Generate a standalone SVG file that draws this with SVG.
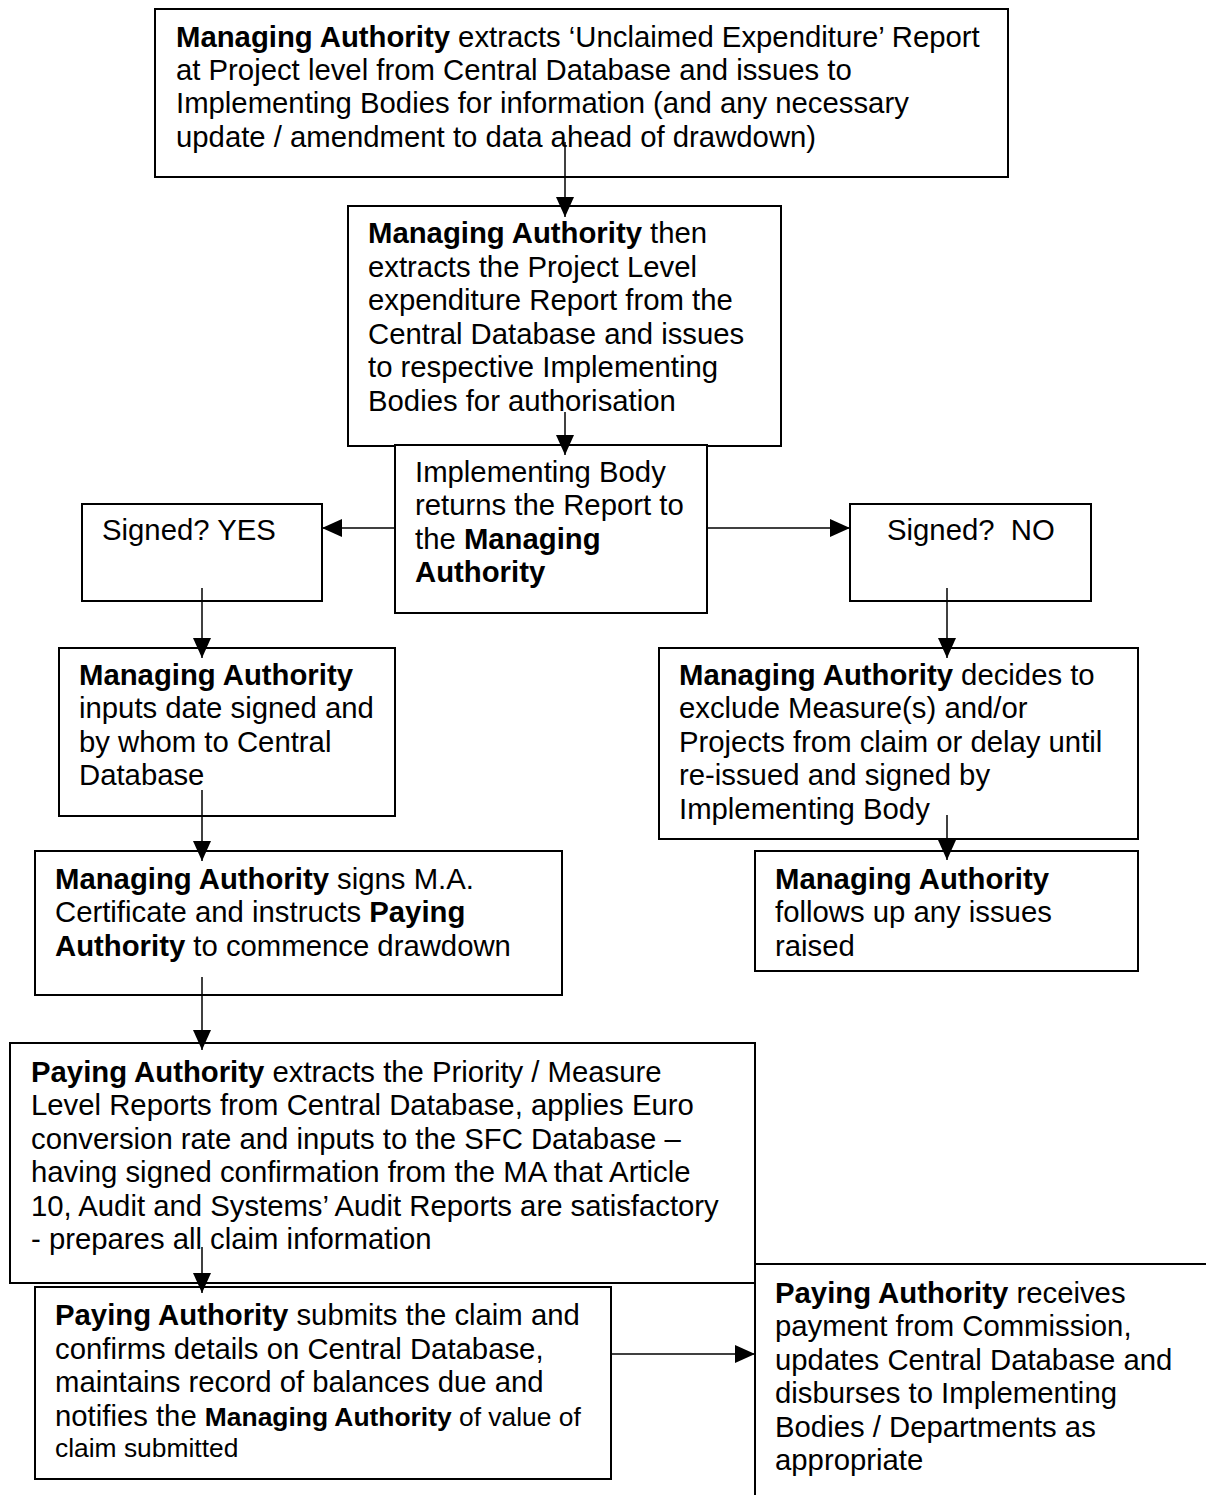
<svg xmlns="http://www.w3.org/2000/svg" width="1206" height="1495" viewBox="0 0 1206 1495">
<style>
  .box { fill: #ffffff; stroke: #000000; stroke-width: 2; }
  .t { font-family: "Liberation Sans", Arial, sans-serif; font-size: 29.3px; fill: #000000; }
  .s { font-size: 26.4px; }
  .b { font-weight: bold; }
  .conn { stroke: #000000; stroke-width: 1.5; fill: none; marker-end: url(#arrow); }
</style>
<defs>
  <marker id="arrow" viewBox="0 0 20 18" refX="20" refY="9" markerWidth="20" markerHeight="18" markerUnits="userSpaceOnUse" orient="auto">
    <path d="M0,0 L20,9 L0,18 Z" fill="#000000"/>
  </marker>
</defs>
<rect x="0" y="0" width="1206" height="1495" fill="#ffffff"/>

<g id="node-extract-unclaimed">
  <rect class="box" x="155" y="9" width="853" height="168"/>
  <text class="t" x="176" y="47"><tspan class="b">Managing Authority</tspan> extracts ‘Unclaimed Expenditure’ Report</text>
  <text class="t" x="176" y="80">at Project level from Central Database and issues to</text>
  <text class="t" x="176" y="113">Implementing Bodies for information (and any necessary</text>
  <text class="t" x="176" y="147">update / amendment to data ahead of drawdown)</text>
</g>

<g id="node-extract-project">
  <rect class="box" x="348" y="206" width="433" height="240"/>
  <text class="t" x="368" y="243"><tspan class="b">Managing Authority</tspan> then</text>
  <text class="t" x="368" y="277">extracts the Project Level</text>
  <text class="t" x="368" y="310">expenditure Report from the</text>
  <text class="t" x="368" y="344">Central Database and issues</text>
  <text class="t" x="368" y="377">to respective Implementing</text>
  <text class="t" x="368" y="411">Bodies for authorisation</text>
</g>

<g id="node-ib-returns">
  <rect class="box" x="395" y="445" width="312" height="168"/>
  <text class="t" x="415" y="482">Implementing Body</text>
  <text class="t" x="415" y="515">returns the Report to</text>
  <text class="t" x="415" y="549">the <tspan class="b">Managing</tspan></text>
  <text class="t b" x="415" y="582">Authority</text>
</g>

<g id="node-signed-yes">
  <rect class="box" x="82" y="504" width="240" height="97"/>
  <text class="t" x="102" y="540">Signed? YES</text>
</g>

<g id="node-signed-no">
  <rect class="box" x="850" y="504" width="241" height="97"/>
  <text class="t" x="887" y="540" xml:space="preserve">Signed?  NO</text>
</g>

<g id="node-ma-inputs">
  <rect class="box" x="59" y="648" width="336" height="168"/>
  <text class="t b" x="79" y="685">Managing Authority</text>
  <text class="t" x="79" y="718">inputs date signed and</text>
  <text class="t" x="79" y="752">by whom to Central</text>
  <text class="t" x="79" y="785">Database</text>
</g>

<g id="node-ma-decides">
  <rect class="box" x="659" y="648" width="479" height="191"/>
  <text class="t" x="679" y="685"><tspan class="b">Managing Authority</tspan> decides to</text>
  <text class="t" x="679" y="718">exclude Measure(s) and/or</text>
  <text class="t" x="679" y="752">Projects from claim or delay until</text>
  <text class="t" x="679" y="785">re-issued and signed by</text>
  <text class="t" x="679" y="819">Implementing Body</text>
</g>

<g id="node-ma-follows">
  <rect class="box" x="755" y="851" width="383" height="120"/>
  <text class="t b" x="775" y="889">Managing Authority</text>
  <text class="t" x="775" y="922">follows up any issues</text>
  <text class="t" x="775" y="956">raised</text>
</g>

<g id="node-ma-signs">
  <rect class="box" x="35" y="851" width="527" height="144"/>
  <text class="t" x="55" y="889"><tspan class="b">Managing Authority</tspan> signs M.A.</text>
  <text class="t" x="55" y="922">Certificate and instructs <tspan class="b">Paying</tspan></text>
  <text class="t" x="55" y="956"><tspan class="b">Authority</tspan> to commence drawdown</text>
</g>

<g id="node-pa-extracts">
  <rect class="box" x="10" y="1043" width="745" height="240"/>
  <text class="t" x="31" y="1082"><tspan class="b">Paying Authority</tspan> extracts the Priority / Measure</text>
  <text class="t" x="31" y="1115">Level Reports from Central Database, applies Euro</text>
  <text class="t" x="31" y="1149">conversion rate and inputs to the SFC Database –</text>
  <text class="t" x="31" y="1182">having signed confirmation from the MA that Article</text>
  <text class="t" x="31" y="1216">10, Audit and Systems’ Audit Reports are satisfactory</text>
  <text class="t" x="31" y="1249">- prepares all claim information</text>
</g>

<g id="node-pa-submits">
  <rect class="box" x="35" y="1287" width="576" height="192"/>
  <text class="t" x="55" y="1325"><tspan class="b">Paying Authority</tspan> submits the claim and</text>
  <text class="t" x="55" y="1359">confirms details on Central Database,</text>
  <text class="t" x="55" y="1392">maintains record of balances due and</text>
  <text class="t" x="55" y="1426">notifies the <tspan class="b s">Managing Authority</tspan><tspan class="s"> of value of</tspan></text>
  <text class="t s" x="55" y="1457">claim submitted</text>
</g>

<g id="node-pa-receives">
  <rect class="box" x="755" y="1264" width="500" height="300"/>
  <text class="t" x="775" y="1303"><tspan class="b">Paying Authority</tspan> receives</text>
  <text class="t" x="775" y="1336">payment from Commission,</text>
  <text class="t" x="775" y="1370">updates Central Database and</text>
  <text class="t" x="775" y="1403">disburses to Implementing</text>
  <text class="t" x="775" y="1437">Bodies / Departments as</text>
  <text class="t" x="775" y="1470">appropriate</text>
</g>

<g id="connectors">
  <line class="conn" x1="565" y1="142" x2="565" y2="217"/>
  <line class="conn" x1="565" y1="412" x2="565" y2="455"/>
  <line class="conn" x1="395" y1="528" x2="322" y2="528"/>
  <line class="conn" x1="707" y1="528" x2="850" y2="528"/>
  <line class="conn" x1="202" y1="588" x2="202" y2="658"/>
  <line class="conn" x1="947" y1="588" x2="947" y2="658"/>
  <line class="conn" x1="202" y1="790" x2="202" y2="861"/>
  <line class="conn" x1="947" y1="815" x2="947" y2="860"/>
  <line class="conn" x1="202" y1="977" x2="202" y2="1050"/>
  <line class="conn" x1="202" y1="1247" x2="202" y2="1293"/>
  <line class="conn" x1="611" y1="1354" x2="755" y2="1354"/>
</g>
</svg>
